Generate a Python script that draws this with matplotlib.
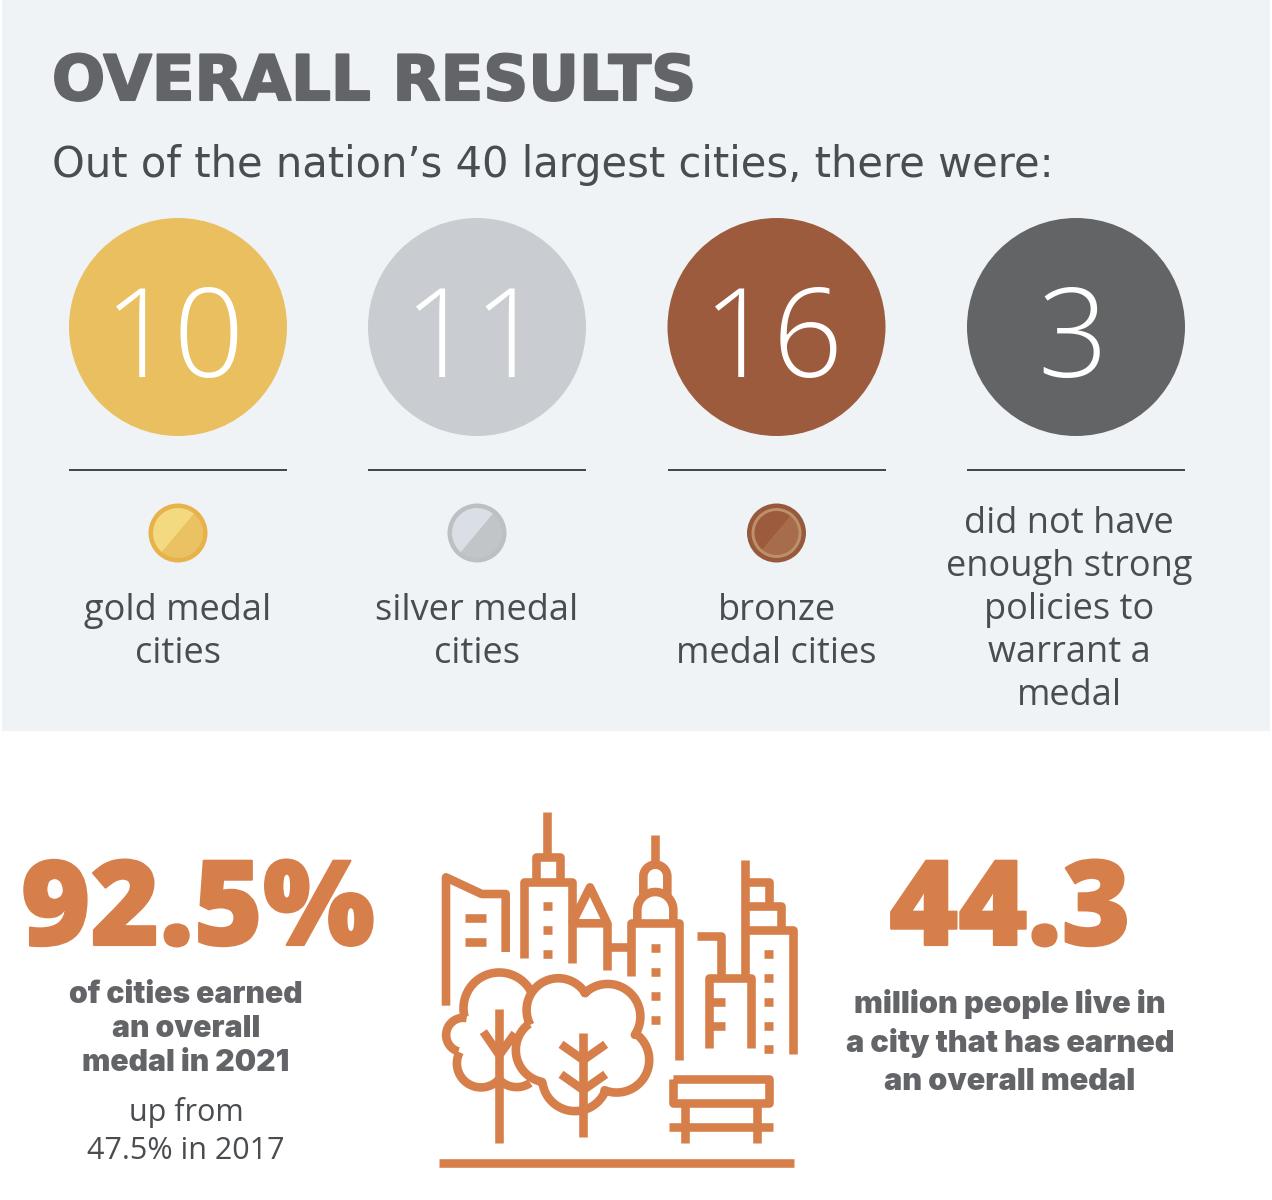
import numpy as np
import matplotlib
matplotlib.use('Agg')
import matplotlib.pyplot as plt
import matplotlib.patheffects as pe
from matplotlib.patches import Circle, Rectangle, Wedge

# values
counts = ['10', '11', '16', '3']
circle_colors = ['#E9BF5F', '#C9CDD1', '#9C5B3C', '#636466']
centers = [178, 477, 776.5, 1076]
medal_colors = [('#E8B24A', '#F3D97F', '#EAC263', None),
                ('#BDC0C3', '#DADFE6', '#C1C5C8', None),
                ('#96593B', '#9C5B3C', '#A76C4C', '#BE8F6B')]
labels = [['gold medal', 'cities'], ['silver medal', 'cities'], ['bronze', 'medal cities']]
last_label = ['did not have', 'enough strong', 'policies to', 'warrant a', 'medal']
left_bold = ['of cities earned', 'an overall', 'medal in 2021']
left_plain = ['up from', '47.5% in 2017']
right_bold = ['million people live in', 'a city that has earned', 'an overall medal']

DARK = '#4A4D50'
ORANGE = '#D67F4B'
GREY = '#626467'
PX = 0.72  # pixels to points at dpi 100

fig = plt.figure(figsize=(12.72, 12), dpi=100)
ax = fig.add_axes([0, 0, 1, 1])
ax.set_xlim(0, 1272)
ax.set_ylim(1200, 0)
ax.axis('off')

ax.add_patch(Rectangle((2, 0), 1268, 731, color='#EFF3F6', lw=0))

title = ax.text(52, 100, 'OVERALL RESULTS', fontsize=45, family='DejaVu Sans', weight='bold', color=GREY)
title.set_path_effects([pe.withStroke(linewidth=1.5, foreground=GREY)])
ax.text(52, 177, 'Out of the nation\u2019s 40 largest cities, there were:', fontsize=30, family='DejaVu Sans', color=DARK)

for i in range(4):
    cx = centers[i]
    ax.add_patch(Circle((cx, 327), 109, color=circle_colors[i], lw=0))
    ax.text(cx - 3, 377, counts[i], fontsize=89, family='Open Sans', weight=300, color='white', ha='center')
    ax.plot([cx - 109, cx + 109], [469.5, 469.5], color='#3C3F41', lw=1.9 * PX, solid_capstyle='butt')

for i in range(3):
    cx = centers[i]
    ring, light, dark, inner = medal_colors[i]
    ax.add_patch(Circle((cx, 533), 29.5, color=ring, lw=0))
    if inner:
        ax.add_patch(Circle((cx, 533), 25, color=inner, lw=0))
    r = 22 if inner else 25
    ax.add_patch(Wedge((cx, 533), r, 130, 310, color=light, lw=0))
    ax.add_patch(Wedge((cx, 533), r, 310, 490, color=dark, lw=0))
    for j, s in enumerate(labels[i]):
        ax.text(cx, 620 + j * 43, s, fontsize=26, family='Open Sans', color=DARK, ha='center')

for j, s in enumerate(last_label):
    ax.text(1069, 533 + j * 43, s, fontsize=26, family='Open Sans', color=DARK, ha='center')

# bottom stats
for x, s in [(198, '92.5%'), (1010, '44.3')]:
    big = ax.text(x, 945, s, fontsize=85, family='Open Sans', weight=800, color=ORANGE, ha='center')
    big.set_path_effects([pe.withStroke(linewidth=1.5, foreground=ORANGE)])
for j, s in enumerate(left_bold):
    ax.text(186, 1003 + j * 34, s, fontsize=21.7, family='Inter', weight=900, color=GREY, ha='center')
for j, s in enumerate(left_plain):
    ax.text(186, 1121 + j * 38, s, fontsize=22, family='Open Sans', color=DARK, ha='center')
for j, s in enumerate(right_bold):
    ax.text(1010, 1013 + j * 38.5, s, fontsize=22.1, family='Inter', weight=900, color=GREY, ha='center')


# city icon, drawn in its own coordinates (3x) and moved to (420, 800)
def line(pts):
    pts = np.array(pts, dtype=float)
    ax.plot(420 + pts[:, 0] / 3, 800 + pts[:, 1] / 3, color=ORANGE, lw=8.6 * PX,
            solid_capstyle='butt', solid_joinstyle='round')

def arc(c, start, end):
    # clockwise on screen from start to end
    r = (np.hypot(start[0] - c[0], start[1] - c[1]) + np.hypot(end[0] - c[0], end[1] - c[1])) / 2
    a0 = np.arctan2(start[1] - c[1], start[0] - c[0])
    a1 = np.arctan2(end[1] - c[1], end[0] - c[0])
    if a1 < a0:
        a1 += 2 * np.pi
    t = np.linspace(a0, a1, 40)
    return np.column_stack([c[0] + r * np.cos(t), c[1] + r * np.sin(t)])

for p in [
    [(78, 617), (78, 232), (185, 282), (257, 282), (257, 456)],
    [(136, 353), (198, 353)], [(136, 425), (198, 425)],
    [(311, 474), (311, 246), (456, 246), (456, 490)],
    [(347, 246), (347, 172), (420, 172), (420, 246)],
    [(382, 36), (382, 172)],
    [(456, 370), (510, 262), (562, 370), (456, 370)],
    [(562, 370), (562, 510)], [(562, 442), (632, 442)],
    [(632, 528), (632, 370), (778, 370), (778, 780)],
    [(706, 106), (706, 195)],
    [(832, 407), (903, 407), (903, 533)],
    [(867, 743), (867, 533), (992, 533), (992, 743)],
    [(867, 605), (916, 605)], [(867, 677), (916, 677)],
    [(975, 533), (975, 180)],
    [(975, 245), (1046, 245), (1046, 317)],
    [(975, 317), (1082, 317), (1082, 389)],
    [(975, 389), (1118, 389), (1118, 762)],
    [(760, 838), (1046, 838), (1046, 910), (760, 910), (760, 838)],
    [(795, 910), (795, 1030)], [(1010, 910), (1010, 1030)],
    [(747, 982), (1060, 982)],
    [(57, 1090), (1123, 1090)],
    [(238, 628), (238, 1030)],
    [(190, 695), (238, 765), (285, 700)],
    [(490, 700), (490, 1012)],
    [(423, 733), (490, 780), (557, 733)],
    [(423, 823), (490, 870), (557, 823)],
]:
    line(p)

# domes
line(np.vstack([[(652, 370)], arc((706, 330), (652, 330), (760, 330)), [(760, 370)]]))
line(np.vstack([[(670, 285)], arc((706, 230), (670, 230), (742, 230)), [(742, 285)]]))

# windows
for x, ys in [(382, [317, 389, 461]), (706, [443, 515, 587, 659]), (1046, [461, 533, 605, 677, 748])]:
    for y in ys:
        line([(x - 13, y), (x + 13, y)])

# back tree
line(arc((238, 625), (135, 650), (335, 575)))
line(arc((130, 705), (115, 755), (140, 655)))
line(arc((183, 790), (238, 830), (115, 755)))
line(arc((290, 790), (335, 855), (245, 835)))
# front tree
line(np.vstack([
    arc((415, 630), (330, 675), (495, 580)),
    arc((563, 650), (495, 580), (645, 705)),
    arc((590, 780), (645, 705), (552, 875)),
    arc((465, 835), (552, 875), (365, 850)),
    arc((385, 750), (365, 850), (330, 675)),
]))

fig.savefig('out.png', dpi=100, facecolor='white')
